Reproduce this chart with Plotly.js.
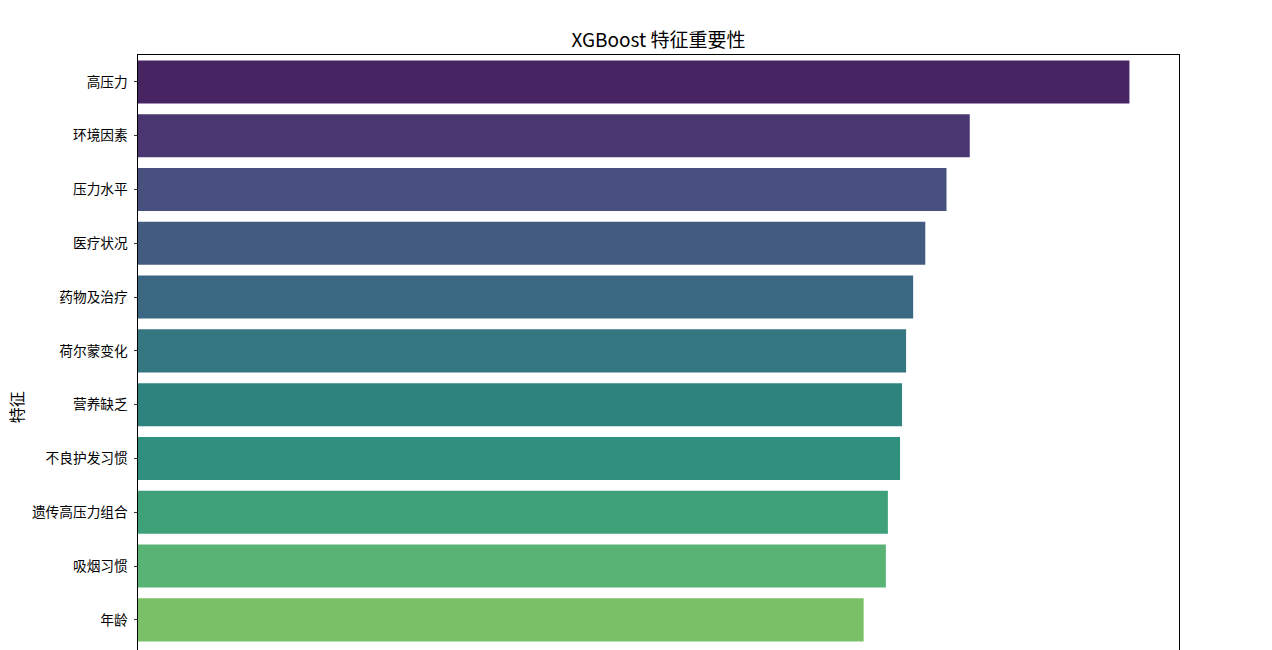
<!DOCTYPE html>
<html>
<head>
<meta charset="utf-8">
<script src="https://cdn.plot.ly/plotly-3.0.1.min.js"></script>
<style>
html, body { margin: 0; padding: 0; background: #ffffff; overflow: hidden; }
#chart { width: 1272px; height: 650px; }
</style>
</head>
<body>
<div id="chart"></div>
<script>
// Feature names (top to bottom)
const features = ["高压力", "环境因素", "压力水平", "医疗状况", "药物及治疗", "荷尔蒙变化",
                  "营养缺乏", "不良护发习惯", "遗传高压力组合", "吸烟习惯", "年龄"];
// Importance values
const importance = [0.0981, 0.0823, 0.0800, 0.0779, 0.0767, 0.0760,
                    0.0756, 0.0754, 0.0742, 0.0740, 0.0718];
// desaturated viridis palette
const barColors = ["#472563", "#4A3772", "#485080", "#435B81", "#3A6882", "#347781",
                   "#2F837F", "#2F907E", "#3EA179", "#59B374", "#79C066"];

const font = "'Noto Sans CJK SC', 'Noto Sans', sans-serif";

const trace = {
  type: "bar",
  orientation: "h",
  x: importance,
  y: features,
  marker: { color: barColors, line: { width: 0 } },
  hoverinfo: "x+y"
};

const layout = {
  width: 1272,
  height: 650,
  margin: { l: 138, r: 93, t: 55, b: 0, pad: 0 },
  paper_bgcolor: "#ffffff",
  plot_bgcolor: "#ffffff",
  bargap: 0.2,
  showlegend: false,
  font: { family: font, color: "#000000", size: 13.7 },
  title: {
    text: "XGBoost 特征重要性",
    font: { family: font, size: 19, color: "#000000" },
    x: 0.5, xref: "paper", xanchor: "center",
    y: 1, yref: "paper", yanchor: "bottom", pad: { b: 8 }
  },
  xaxis: {
    range: [0, Math.max(...importance) * 1.05],
    side: "top",
    showline: true, linecolor: "#000000", linewidth: 1,
    mirror: false,
    showgrid: false, zeroline: false,
    showticklabels: false, ticks: ""
  },
  yaxis: {
    type: "category",
    range: [10.56, -0.5],
    showline: true, linecolor: "#000000", linewidth: 1,
    mirror: true,
    showgrid: false, zeroline: false,
    ticks: "outside", ticklen: 3.5, tickwidth: 0.8, tickcolor: "#000000",
    ticklabelstandoff: 3,
    tickfont: { family: font, size: 13.7, color: "#000000" },
    automargin: false
  },
  annotations: [{
    text: "特征",
    textangle: -90,
    xref: "paper", yref: "paper",
    x: -0.1172, y: 0.408,
    xanchor: "center", yanchor: "middle",
    showarrow: false,
    font: { family: font, size: 16, color: "#000000" }
  }]
};

Plotly.newPlot("chart", [trace], layout, { displayModeBar: false, staticPlot: true });
</script>
</body>
</html>
